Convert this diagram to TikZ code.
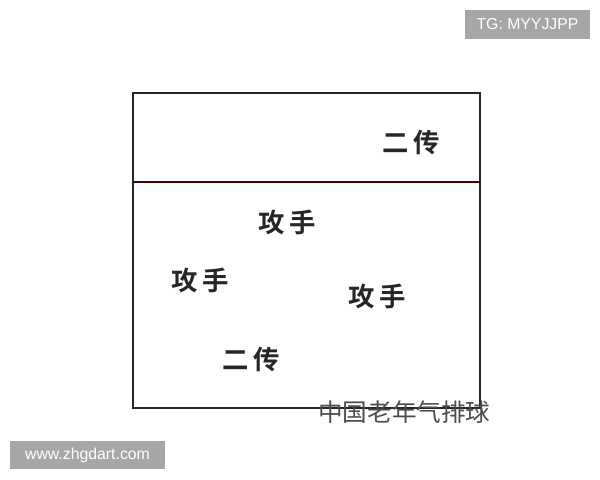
\documentclass[tikz,border=0pt]{standalone}
\usepackage{fontspec}
\setmainfont{Liberation Sans}
\newfontfamily\cjk{Noto Sans CJK SC}
\newfontfamily\cjkb{Noto Sans CJK SC Bold}
\begin{document}
\begin{tikzpicture}[x=0.02cm,y=-0.02cm,
  court/.style={draw=black!85,line width=1.2pt},
  role/.style={font=\cjkb\fontsize{15}{17}\selectfont,text=black!85,inner sep=0pt},
  wm/.style={fill=black!35,text=white,font=\fontsize{9}{11}\selectfont,inner sep=0pt,minimum height=0.58cm},
  logomark/.style={font=\cjk\fontsize{14}{16}\selectfont,text=black!70,inner sep=0pt}]
\useasboundingbox (0,0) rectangle (600,480);
\fill[white] (0,0) rectangle (600,480);
\coordinate (tl) at (133,93);
\coordinate (br) at (480,408);
\coordinate (ml) at (133,182);
\coordinate (mr) at (480,182);
\draw[court] (tl) rectangle (br);
\draw[court,draw=black!70!red] (ml) -- (mr);
\node[role] (s1) at (411,143) {二\,传};
\node[role] (a1) at (287,222) {攻\,手};
\node[role] (a2) at (200,280) {攻\,手};
\node[role] (a3) at (377,296) {攻\,手};
\node[role] (s2) at (251,360) {二\,传};
\node[logomark,anchor=west] (logo) at (318,412) {中国老年气排球};
\node[wm,minimum width=2.5cm] (tg) at (527.5,24.5) {TG: MYYJJPP};
\node[wm,minimum width=3.1cm] (url) at (87.5,455) {www.zhgdart.com};
\end{tikzpicture}
\end{document}
